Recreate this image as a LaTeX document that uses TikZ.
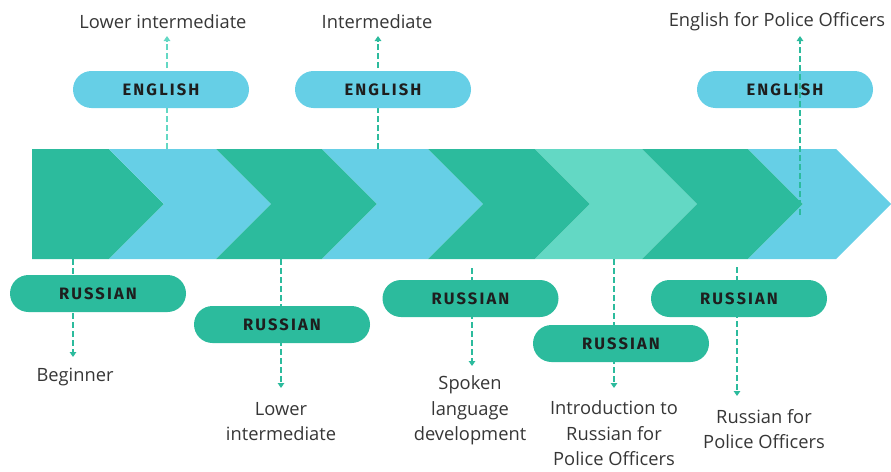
\documentclass[tikz,border=0pt]{standalone}
\usepackage{fontspec}
\setmainfont{Open Sans}
\newfontfamily\pillfont{Fira Sans}[LetterSpace=13]
\usetikzlibrary{arrows.meta}
\definecolor{cgreen}{HTML}{2CBB9D}
\definecolor{cblue}{HTML}{66CFE6}
\definecolor{cmint}{HTML}{63D8C4}
\definecolor{ctext}{HTML}{363636}
\definecolor{cpill}{HTML}{1E1E1E}
\tikzset{
  pill/.style={rounded corners=18.5pt, minimum width=176pt, minimum height=37pt,
    inner sep=0pt, text=cpill, font=\pillfont\bfseries\fontsize{16.5}{16.5}\selectfont},
  engpill/.style={pill, fill=cblue},
  ruspill/.style={pill, fill=cgreen},
  lbl/.style={text=ctext, align=center, inner sep=0pt, font=\fontsize{18.3}{25.5}\selectfont},
  dashline/.style={draw=#1, line width=1.5pt, dash pattern=on 6pt off 3pt,
    -{Triangle[width=6.5pt,length=5pt]}},
  dashline/.default=cgreen
}
\begin{document}
\begin{tikzpicture}[x=1pt,y=-1pt]
\useasboundingbox (0,0) rectangle (891,471);
% band
\def\T{149}\def\B{259}\def\M{204}
\fill[cgreen] (32,\T) -- (109,\T) -- (164,\M) -- (109,\B) -- (32,\B) -- cycle;
\foreach \pc/\pt/\cc/\tt/\col in {109/164/216/271/cblue, 216/271/322/377/cgreen,
  322/377/428/483/cblue, 428/483/535/590/cgreen, 535/590/642/697/cmint,
  642/697/748/803/cgreen, 748/803/836/891/cblue}{
  \fill[\col] (\pc,\T) -- (\cc,\T) -- (\tt,\M) -- (\cc,\B) -- (\pc,\B) -- (\pt,\M) -- cycle;
}
% coordinates for connectors
\coordinate (u1s) at (167,149); \coordinate (u1e) at (167,36);
\coordinate (u2s) at (378,149); \coordinate (u2e) at (378,36);
\coordinate (u3s) at (800,215); \coordinate (u3e) at (800,36);
\coordinate (d1s) at (73,259);  \coordinate (d1e) at (73,357);
\coordinate (d2s) at (281,259); \coordinate (d2e) at (281,388);
\coordinate (d3s) at (472,268); \coordinate (d3e) at (472,366);
\coordinate (d4s) at (614,259); \coordinate (d4e) at (614,388);
\coordinate (d5s) at (737,267); \coordinate (d5e) at (737,396);
% connectors behind pills
\draw[dashline=cmint] (u1s) -- (u1e);
\draw[dashline] (u2s) -- (u2e);
\draw[dashline] (d1s) -- (d1e);
\draw[dashline] (d2s) -- (d2e);
\draw[dashline] (d3s) -- (d3e);
\draw[dashline] (d4s) -- (d4e);
% pills
\node[engpill] (e1) at (161,89.5) {ENGLISH};
\node[engpill] (e2) at (383,89.5) {ENGLISH};
\node[engpill] (e3) at (785,89.5) {ENGLISH};
\node[ruspill] (r1) at (98,293.5) {RUSSIAN};
\node[ruspill] (r2) at (282,324.5) {RUSSIAN};
\node[ruspill] (r3) at (470.5,298.5) {RUSSIAN};
\node[ruspill] (r4) at (621,343.5) {RUSSIAN};
\node[ruspill] (r5) at (739,298.5) {RUSSIAN};
% connectors in front
\draw[dashline] (u3s) -- (u3e);
\draw[dashline] (d5s) -- (d5e);
% labels
\node[lbl] (t1) at (163,22) {Lower intermediate};
\node[lbl] (t2) at (377,22) {Intermediate};
\node[lbl] (t3) at (777,22) {English for Police Officers};
\node[lbl] (b1) at (75,377) {Beginner};
\node[lbl] (b2) at (281,421.5) {Lower\\intermediate};
\node[lbl] (b3) at (470,410.5) {Spoken\\language\\development};
\node[lbl] (b4) at (614,433.5) {Introduction to\\Russian for\\Police Officers};
\node[lbl] (b5) at (764,429) {Russian for\\Police Officers};
\end{tikzpicture}
\end{document}
